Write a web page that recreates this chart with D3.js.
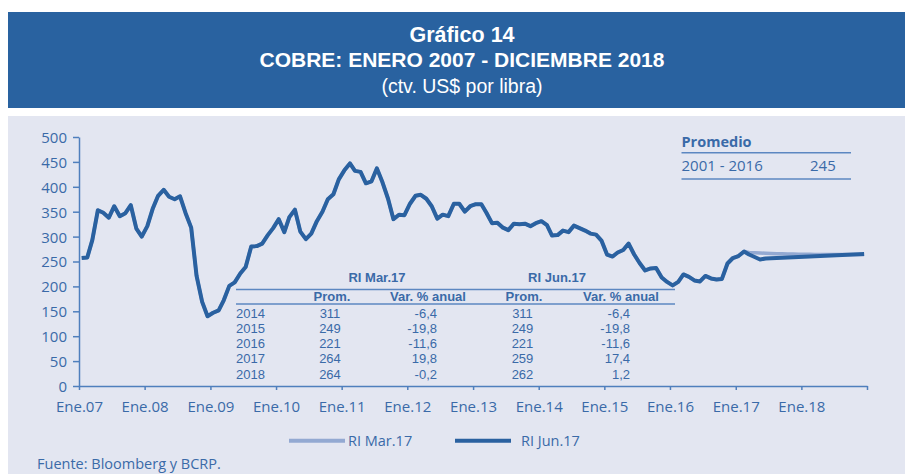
<!DOCTYPE html>
<html>
<head>
<meta charset="utf-8">
<script src="https://cdn.jsdelivr.net/npm/d3@7"></script>
<style>
  html, body { margin: 0; padding: 0; background: #ffffff; }
  svg { display: block; }
</style>
</head>
<body>
<svg id="chart" width="905" height="474" font-family="'Open Sans', 'Noto Sans', sans-serif"></svg>
<script>
// ---------------- DATA ----------------
const titleLines = ["Gráfico 14", "COBRE: ENERO 2007 - DICIEMBRE 2018", "(ctv. US$ por libra)"];
const startYear = 2007;
// Monthly copper price (ctv. US$/lb), Jan 2007 - Feb 2017 (common history)
const history = [
  257, 258, 293, 353, 348, 338, 361, 341, 347, 363, 316, 300,
  321, 357, 382, 394, 380, 375, 381, 347, 318, 221, 169, 140,
  147, 152, 172, 201, 208, 226, 239, 280, 281, 286, 303, 317,
  335, 309, 339, 354, 310, 295, 306, 331, 350, 375, 385, 415,
  433, 447, 432, 430, 407, 411, 437, 409, 376, 335, 344, 343,
  366, 382, 384, 376, 361, 336, 344, 341, 366, 366, 350, 361,
  365, 365, 348, 327, 328, 318, 313, 326, 325, 326, 321, 327,
  331, 323, 302, 303, 312, 309, 322, 317, 312, 306, 304, 292,
  264, 260, 268, 273, 286, 264, 247, 232, 236, 237, 218, 209,
  202, 209, 224, 219, 212, 210, 221, 216, 214, 215, 246, 257,
  261, 270
];
// Mar 2017 - Dec 2018
const riMar17Tail = [
  268, 267.5, 267, 266.5, 266, 265.5, 265.5, 265, 265, 264.5,
  264.5, 264.5, 264, 264, 264, 264, 264, 264, 264, 264, 264, 264
];
const riJun17Tail = [
  264, 259, 254, 256, 256.5, 257, 257.5, 258, 258.5, 259,
  259.5, 260, 260.5, 261, 261.5, 262, 262.5, 263, 263.5, 264, 264.5, 265
];
const yTicks = [0, 50, 100, 150, 200, 250, 300, 350, 400, 450, 500];
const xTickYears = [2007, 2008, 2009, 2010, 2011, 2012, 2013, 2014, 2015, 2016, 2017, 2018, 2019];
const xLabelYears = [2007, 2008, 2009, 2010, 2011, 2012, 2013, 2014, 2015, 2016, 2017, 2018];
const seriesNames = ["RI Mar.17", "RI Jun.17"];

const tableGroups = ["RI Mar.17", "RI Jun.17"];
const tableHeads = ["Prom.", "Var. % anual", "Prom.", "Var. % anual"];
const tableYears = ["2014", "2015", "2016", "2017", "2018"];
const marProm = ["311", "249", "221", "264", "264"];
const marVar = ["-6,4", "-19,8", "-11,6", "19,8", "-0,2"];
const junProm = ["311", "249", "221", "259", "262"];
const junVar = ["-6,4", "-19,8", "-11,6", "17,4", "1,2"];

const promLabel = "Promedio";
const promPeriod = "2001 - 2016";
const promValue = "245";
const source = "Fuente: Bloomberg y BCRP.";

// ---------------- STYLE ----------------
const C = {
  header: "#2962a0",
  panel: "#e3e6f1",
  axis: "#4f7fbd",
  text: "#3a6aa8",
  dark: "#2a61a0",
  light: "#93a9d2",
  rule: "#5c87c1"
};
const mainFont = "'Open Sans', 'Noto Sans', sans-serif";
const compactFont = "'Liberation Sans', Arial, sans-serif";

const svg = d3.select("#chart");

// backgrounds
svg.append("rect").attr("x", 8).attr("y", 12).attr("width", 897).attr("height", 96).attr("fill", C.header);
svg.append("rect").attr("x", 8).attr("y", 116).attr("width", 897).attr("height", 358).attr("fill", C.panel);

// title
const tSpecs = [
  { y: 42, size: 21.5, weight: 700 },
  { y: 67, size: 21, weight: 700 },
  { y: 92.5, size: 19.5, weight: 400 }
];
titleLines.forEach((t, i) => {
  svg.append("text").attr("x", 462).attr("y", tSpecs[i].y)
    .attr("text-anchor", "middle").attr("fill", "#ffffff")
    .attr("font-family", compactFont)
    .attr("font-size", tSpecs[i].size).attr("font-weight", tSpecs[i].weight)
    .text(t);
});

// scales
const x = d3.scaleTime()
  .domain([new Date(startYear, 0, 1), new Date(2019, 0, 1)])
  .range([79, 867]);
const y = d3.scaleLinear().domain([0, 500]).range([386, 137]);

const monthDate = i => new Date(startYear, i, 16);
const mar17 = history.concat(riMar17Tail).map((v, i) => ({ d: monthDate(i), v }));
const jun17 = history.concat(riJun17Tail).map((v, i) => ({ d: monthDate(i), v }));

// axes
const yAxis = d3.axisLeft(y).tickValues(yTicks).tickSize(6).tickSizeOuter(0).tickPadding(6);
const gy = svg.append("g").attr("transform", "translate(79,0)").call(yAxis);
gy.attr("font-family", mainFont);
gy.select(".domain").attr("stroke", C.axis).attr("stroke-width", 1.5);
gy.selectAll(".tick line").attr("stroke", C.axis).attr("stroke-width", 1.5);
gy.selectAll(".tick text").attr("fill", C.text).attr("font-size", 15).attr("dy", "0.36em");

const xAxis = d3.axisBottom(x)
  .tickValues(xTickYears.map(yr => new Date(yr, 0, 1)))
  .tickSize(4).tickSizeOuter(0).tickPadding(11)
  .tickFormat(d => xLabelYears.includes(d.getFullYear()) ? "Ene." + String(d.getFullYear() % 100).padStart(2, "0") : "");
const gx = svg.append("g").attr("transform", "translate(0,386)").call(xAxis);
gx.attr("font-family", mainFont);
gx.select(".domain").attr("stroke", C.axis).attr("stroke-width", 1.5);
gx.selectAll(".tick line").attr("stroke", C.axis).attr("stroke-width", 1.5);
gx.selectAll(".tick text").attr("fill", C.text).attr("font-size", 15);

// lines
const line = d3.line().x(d => x(d.d)).y(d => y(d.v));
svg.append("path").datum(mar17).attr("d", line)
  .attr("fill", "none").attr("stroke", C.light).attr("stroke-width", 3.5).attr("stroke-linejoin", "round");
svg.append("path").datum(jun17).attr("d", line)
  .attr("fill", "none").attr("stroke", C.dark).attr("stroke-width", 4).attr("stroke-linejoin", "round");

// table
const tg = svg.append("g").attr("fill", C.text).attr("font-family", compactFont);
tg.append("line").attr("x1", 236).attr("x2", 675).attr("y1", 289.5).attr("y2", 289.5).attr("stroke", C.rule).attr("stroke-width", 1.5);
tg.append("line").attr("x1", 236).attr("x2", 675).attr("y1", 304).attr("y2", 304).attr("stroke", C.rule).attr("stroke-width", 1.5);
const groupX = [377, 557];
tableGroups.forEach((g, i) => {
  tg.append("text").attr("x", groupX[i]).attr("y", 282).attr("text-anchor", "middle")
    .attr("font-size", 13).attr("font-weight", 700).text(g);
});
const headX = [332, 428, 524, 621];
tableHeads.forEach((h, i) => {
  tg.append("text").attr("x", headX[i]).attr("y", 300.5).attr("text-anchor", "middle")
    .attr("font-size", 13).attr("font-weight", 700).text(h);
});
const rowY = [318.3, 333.3, 348.3, 363.3, 378.5];
const cols = [
  { vals: tableYears, x: 236, anchor: "start" },
  { vals: marProm, x: 330, anchor: "middle" },
  { vals: marVar, x: 437, anchor: "end" },
  { vals: junProm, x: 522.5, anchor: "middle" },
  { vals: junVar, x: 630, anchor: "end" }
];
cols.forEach(c => {
  c.vals.forEach((v, r) => {
    tg.append("text").attr("x", c.x).attr("y", rowY[r]).attr("text-anchor", c.anchor)
      .attr("font-size", 13).text(v);
  });
});

// promedio box
const pg = svg.append("g").attr("fill", C.text);
pg.append("text").attr("x", 681.5).attr("y", 146.7).attr("font-size", 14.5).attr("font-weight", 700).text(promLabel);
pg.append("line").attr("x1", 681.5).attr("x2", 851).attr("y1", 152.7).attr("y2", 152.7).attr("stroke", C.rule).attr("stroke-width", 1.5);
pg.append("text").attr("x", 681.5).attr("y", 170.7).attr("font-size", 15).text(promPeriod);
pg.append("text").attr("x", 810).attr("y", 170.7).attr("font-size", 15).text(promValue);
pg.append("line").attr("x1", 681.5).attr("x2", 851).attr("y1", 179).attr("y2", 179).attr("stroke", C.rule).attr("stroke-width", 1.5);

// legend
const legend = [
  { name: seriesNames[0], color: C.light, x1: 289, x2: 345, tx: 348 },
  { name: seriesNames[1], color: C.dark, x1: 455, x2: 511, tx: 521 }
];
legend.forEach(l => {
  svg.append("line").attr("x1", l.x1).attr("x2", l.x2).attr("y1", 440.7).attr("y2", 440.7)
    .attr("stroke", l.color).attr("stroke-width", 4);
  svg.append("text").attr("x", l.tx).attr("y", 445.5).attr("font-size", 14.5).attr("fill", C.text).text(l.name);
});

// source
svg.append("text").attr("x", 37).attr("y", 468.6).attr("font-size", 14.5).attr("fill", C.text).text(source);
</script>
</body>
</html>
